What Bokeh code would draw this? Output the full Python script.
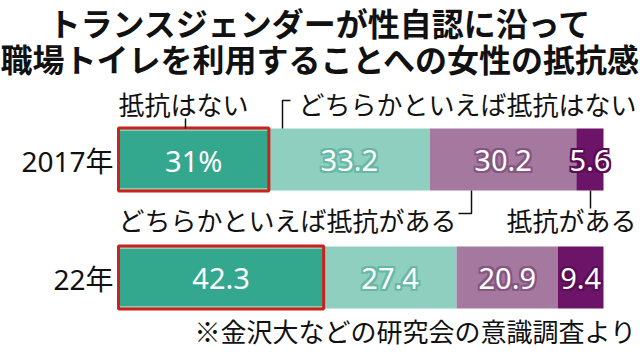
from bokeh.plotting import figure
from bokeh.models import Range1d
from bokeh.core.properties import value
from bokeh.embed import file_html
from bokeh.resources import INLINE

# ---- data ----
years = ["2017年", "22年"]
categories = ["抵抗はない", "どちらかといえば抵抗はない", "どちらかといえば抵抗がある", "抵抗がある"]
no_resist = [31.0, 42.3]
rather_no = [33.2, 27.4]
rather_yes = [30.2, 20.9]
resist = [5.6, 9.4]
value_labels_2017 = ["31%", "33.2", "30.2", "5.6"]
value_labels_2022 = ["42.3", "27.4", "20.9", "9.4"]
title_lines = ["トランスジェンダーが性自認に沿って", "職場トイレを利用することへの女性の抵抗感"]
note = "※金沢大などの研究会の意識調査より"

colors = ["#34a78f", "#8ecfc0", "#a5789f", "#6c1467"]
outline_cols = [None, "#68b8a6", "#85567f", "#5a0c55"]
FONT = "'Noto Sans CJK JP', 'Noto Sans', sans-serif"
NUM_FONT = "'Noto Sans', 'Noto Sans CJK JP', sans-serif"

W, H = 640, 354
X0, SCALE = 118, 4.85  # pixel where 0% sits, pixels per percent
p = figure(width=W, height=H, output_backend="svg", toolbar_location=None,
           x_range=Range1d(-X0 / SCALE, (W - X0) / SCALE), y_range=Range1d(H, 0),
           min_border=0)
p.extra_x_ranges = {"px": Range1d(0, W)}
p.axis.visible = False
p.grid.visible = False
p.outline_line_color = None
p.background_fill_color = "white"
p.border_fill_color = "white"

bar_y = [159, 277]
bar_h = 62
series = [no_resist, rather_no, rather_yes, resist]
lefts = [0.0, 0.0]
seg_bounds = []
for s, col in zip(series, colors):
    rights = [l + v for l, v in zip(lefts, s)]
    p.hbar(y=bar_y, left=lefts, right=rights, height=bar_h, fill_color=col, line_color=None)
    seg_bounds.append((list(lefts), rights))
    lefts = rights

# red frame around first segment
fl, fr = seg_bounds[0]
p.hbar(y=bar_y, left=fl, right=fr, height=bar_h - 3, fill_color=None, line_color="#f4ecd8", line_width=1)
p.hbar(y=bar_y, left=fl, right=fr, height=bar_h + 1, fill_color=None, line_color="#c8231c", line_width=3)

# value labels (outline made from offset copies, then white text on top)
offsets = [(dx, dy) for dx in (-2, 0, 2) for dy in (-2, 0, 2) if (dx, dy) != (0, 0)]
for yi, labels in enumerate([value_labels_2017, value_labels_2022]):
    for k, (lb, rb) in enumerate(seg_bounds):
        cx = (lb[yi] + rb[yi]) / 2
        lbl = labels[k]
        if outline_cols[k]:
            for dx, dy in offsets:
                p.text(x=[cx], y=[bar_y[yi] + 1], text=[lbl], x_offset=dx, y_offset=dy,
                       text_align="center", text_baseline="middle",
                       text_font=value(NUM_FONT), text_font_size="29px", text_color=outline_cols[k])
        p.text(x=[cx], y=[bar_y[yi] + 1], text=[lbl], text_align="center", text_baseline="middle",
               text_font=value(NUM_FONT), text_font_size="29px", text_color="white")

# title
for i, t in enumerate(title_lines):
    p.text(x=[320], y=[21 + 36 * i], text=[t], x_range_name="px", text_align="center",
           text_baseline="middle", text_font=value(FONT), text_font_size="32px",
           text_font_style="bold", text_color="#111111")

# year labels
for i, yl in enumerate(years):
    p.text(x=[113], y=[bar_y[i] + 1], text=[yl], x_range_name="px", text_align="right",
           text_baseline="middle", text_font=value(NUM_FONT), text_font_size="28px", text_color="#111111")

# category labels
cat_pos = [(118, 103, "left"), (636, 103, "right"), (456, 219, "right"), (636, 219, "right")]
for c, (x, y, al) in zip(categories, cat_pos):
    p.text(x=[x], y=[y], text=[c], x_range_name="px", text_align=al, text_baseline="middle",
           text_font=value(FONT), text_font_size="26px", text_color="#111111")

# leader lines
leaders_x = [[185, 185], [290, 282, 282], [458, 471, 471], [590, 590]]
leaders_y = [[118, 128], [100, 100, 128], [213, 213, 190], [190, 208]]
p.multi_line(xs=leaders_x, ys=leaders_y, x_range_name="px", line_color="#111111", line_width=1.5)

# note
p.text(x=[636], y=[330], text=[note], x_range_name="px", text_align="right", text_baseline="middle",
       text_font=value(FONT), text_font_size="26px", text_color="#111111")

open("out.html", "w").write(file_html(p, INLINE))
